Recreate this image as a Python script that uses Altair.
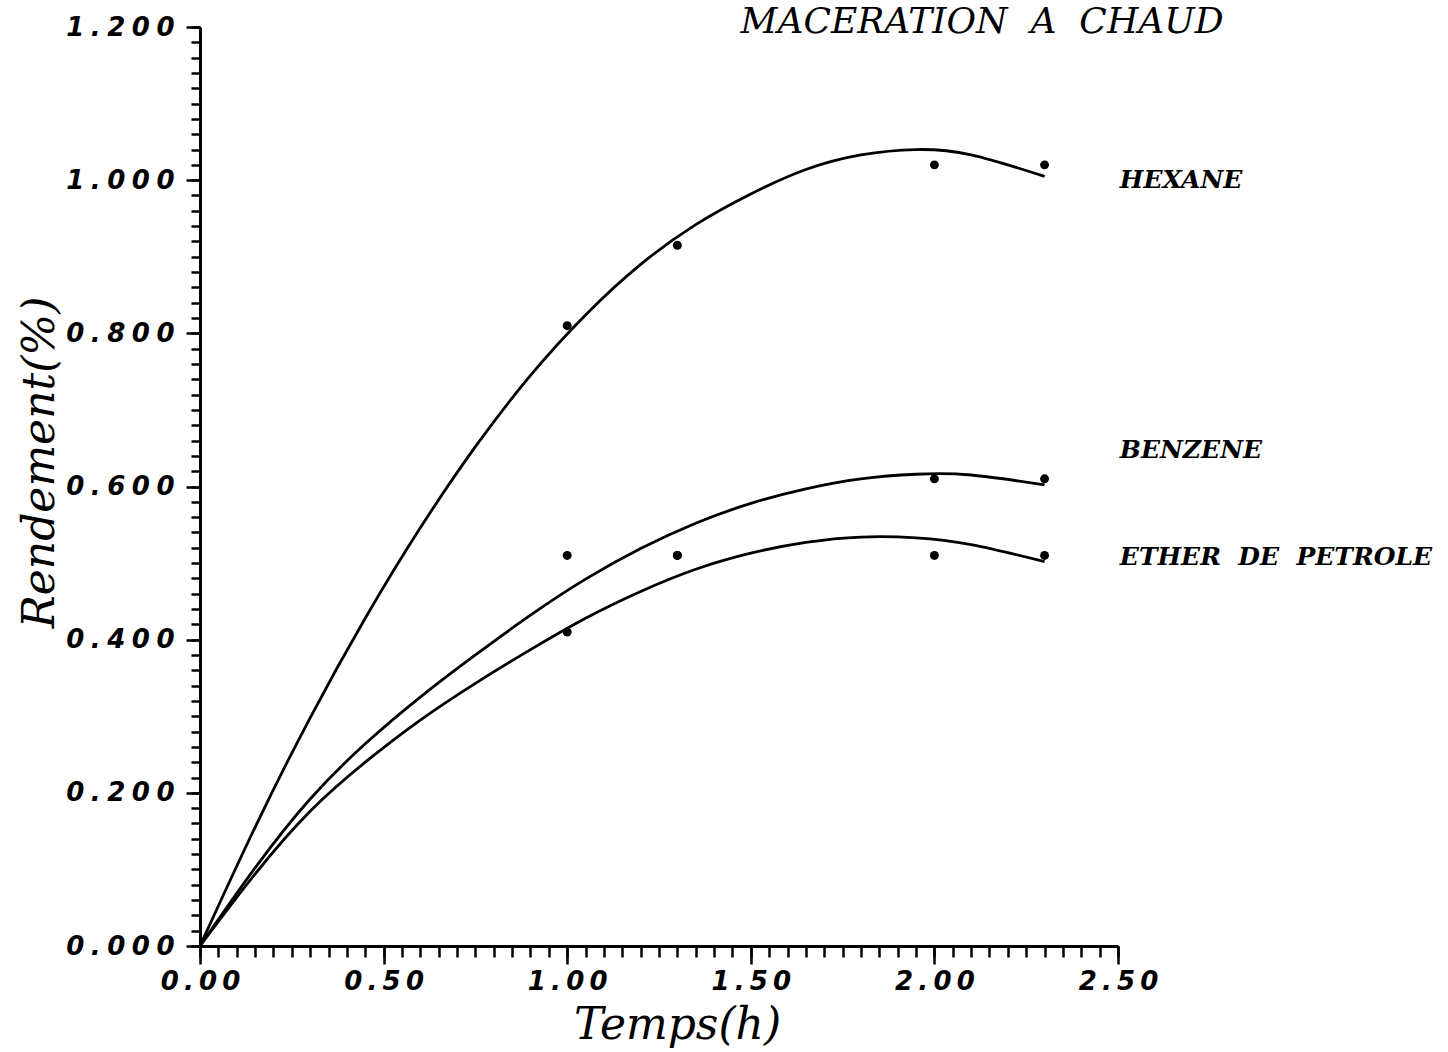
import altair as alt
import pandas as pd

# ---- data ----
curve_x = [0, 0.15, 0.3, 0.45, 0.6, 0.75, 0.9, 1.05, 1.2, 1.35, 1.5, 1.65, 1.8, 1.95, 2.1, 2.3]
hexane_curve = [0, 0.155, 0.298, 0.428, 0.546, 0.652, 0.745, 0.824, 0.890, 0.942, 0.982, 1.014, 1.033, 1.040, 1.033, 1.005]
benzene_curve = [0, 0.102, 0.192, 0.264, 0.325, 0.380, 0.432, 0.479, 0.519, 0.552, 0.578, 0.597, 0.610, 0.616, 0.615, 0.602]
ether_curve = [0, 0.094, 0.176, 0.240, 0.295, 0.343, 0.387, 0.428, 0.463, 0.492, 0.513, 0.527, 0.534, 0.533, 0.524, 0.502]

point_x = [1.0, 1.3, 2.0, 2.3]
hexane_points = [0.81, 0.915, 1.02, 1.02]
benzene_points = [0.51, 0.51, 0.61, 0.61]
ether_points = [0.41, 0.51, 0.51, 0.51]

NB = "\u00a0"
series_names = ["HEXANE", "BENZENE", f"ETHER{NB}{NB}DE{NB}{NB}PETROLE"]
label_y = [1.0, 0.648, 0.508]
label_x = 2.505
chart_title = f"MACERATION{NB}{NB}A{NB}{NB}CHAUD"

x_major_ticks = [0, 0.5, 1.0, 1.5, 2.0, 2.5]
y_major_ticks = [0, 0.2, 0.4, 0.6, 0.8, 1.0, 1.2]
x_minor_ticks = [round(i * 0.05, 2) for i in range(51)]
y_minor_ticks = [round(i * 0.02, 2) for i in range(61)]

curves = [hexane_curve, benzene_curve, ether_curve]
points = [hexane_points, benzene_points, ether_points]

curve_df = pd.DataFrame(
    [{"serie": s, "t": x, "r": y} for s, c in zip(series_names, curves) for x, y in zip(curve_x, c)]
)
point_df = pd.DataFrame(
    [{"serie": s, "t": x, "r": y} for s, p in zip(series_names, points) for x, y in zip(point_x, p)]
)
label_df = pd.DataFrame({"serie": series_names, "t": [label_x] * 3, "r": label_y})
title_df = pd.DataFrame({"txt": [chart_title]})

xscale = alt.Scale(domain=[0, 2.5], nice=False, zero=False)
yscale = alt.Scale(domain=[0, 1.2], nice=False, zero=False)

x_axis = alt.Axis(
    values=x_major_ticks,
    orient="bottom",
    labelExpr="join(split(format(datum.value, '.2f'), ''), '\u2009')",
    tickSize=18,
    labelOverlap=False,
    labelFlush=False,
    labelPadding=4,
    title="Temps(h)",
    titleFont="DejaVu Serif",
    titleFontStyle="italic",
    titleFontWeight="normal",
    titleFontSize=44,
    titleX=477,
    titleY=92,
    titleBaseline="alphabetic",
    titleAlign="center",
)
y_axis = alt.Axis(
    values=y_major_ticks,
    orient="left",
    labelExpr="join(split(format(datum.value, '.3f'), ''), '\u2005')",
    tickSize=14,
    labelOverlap=False,
    labelFlush=False,
    labelPadding=12,
    title="Rendement(%)",
    titleFont="DejaVu Serif",
    titleFontStyle="italic",
    titleFontWeight="normal",
    titleFontSize=44,
    titleAngle=-90,
    titleX=-147,
    titleY=435,
    titleBaseline="alphabetic",
    titleAlign="center",
)
x_minor_axis = alt.Axis(
    values=x_minor_ticks, orient="bottom", labels=False, tickSize=11,
    domain=False, title=None,
)
y_minor_axis = alt.Axis(
    values=y_minor_ticks, orient="left", labels=False, tickSize=9,
    domain=False, title=None,
)

lines = alt.Chart(curve_df).mark_line(
    color="black", strokeWidth=2.8, interpolate="natural"
).encode(
    x=alt.X("t:Q", scale=xscale, axis=x_axis),
    y=alt.Y("r:Q", scale=yscale, axis=y_axis),
    detail="serie:N",
    order="t:Q",
)

dots = alt.Chart(point_df).mark_point(
    filled=True, color="black", size=80, opacity=1, shape="circle"
).encode(
    x=alt.X("t:Q", scale=xscale, axis=x_minor_axis),
    y=alt.Y("r:Q", scale=yscale, axis=y_minor_axis),
)

labels = alt.Chart(label_df).mark_text(
    align="left", baseline="middle", font="DejaVu Serif", fontStyle="italic",
    fontWeight="bold", fontSize=25, color="black",
).encode(
    x=alt.X("t:Q", scale=xscale, axis=None),
    y=alt.Y("r:Q", scale=yscale, axis=None),
    text="serie:N",
)

title_mark = alt.Chart(title_df).mark_text(
    align="center", baseline="alphabetic", font="DejaVu Serif", fontStyle="italic",
    fontWeight="normal", fontSize=36, color="black",
).encode(x=alt.value(782), y=alt.value(6), text="txt:N")

chart = alt.layer(lines, dots, labels, title_mark).resolve_axis(
    x="independent", y="independent"
).properties(
    width=918,
    height=919,
    padding={"left": 200, "top": 27, "right": 330, "bottom": 106},
    autosize=alt.AutoSizeParams(type="none"),
    background="white",
).configure_view(stroke=None).configure_axis(
    grid=False,
    domainColor="black",
    domainWidth=3,
    tickColor="black",
    tickWidth=2.5,
    labelColor="black",
    labelFont="DejaVu Sans",
    labelFontWeight="bold",
    labelFontStyle="italic",
    labelFontSize=26,
    titleColor="black",
)

chart.save("out.html", embed_options={"renderer": "svg", "actions": False})
